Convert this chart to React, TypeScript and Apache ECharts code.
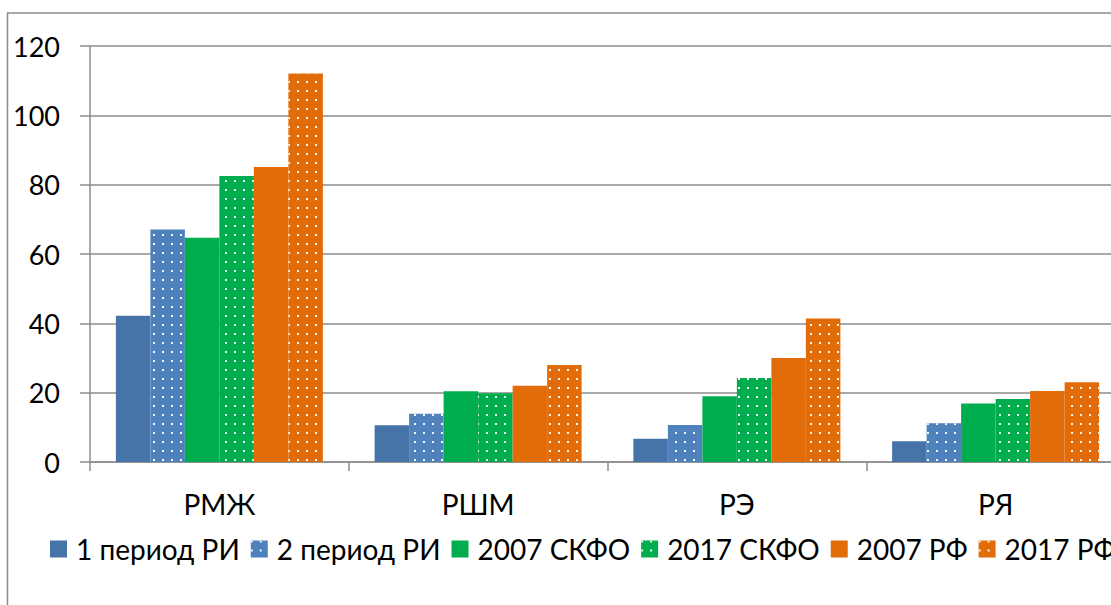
import React, { useEffect, useRef } from "react";
import * as echarts from "echarts";

const categories = ["РМЖ", "РШМ", "РЭ", "РЯ"];
const seriesNames = ["1 период РИ", "2 период РИ", "2007 СКФО", "2017 СКФО", "2007 РФ", "2017 РФ"];
const period1RI = [42.2, 10.6, 6.7, 6.0];
const period2RI = [67.1, 13.9, 10.7, 11.2];
const skfo2007 = [64.7, 20.4, 19.0, 16.9];
const skfo2017 = [82.5, 19.8, 24.2, 18.2];
const rf2007 = [85.1, 22.0, 30.0, 20.5];
const rf2017 = [112.1, 28.0, 41.4, 23.0];
const yTicks = [0, 20, 40, 60, 80, 100, 120];

const seriesData = [period1RI, period2RI, skfo2007, skfo2017, rf2007, rf2017];
const colors = ["#4673A8", "#4F81BD", "#00AD4E", "#00AD4E", "#E36C0A", "#E36C0A"];
const dotted = [false, true, false, true, false, true];
const legendTextWidths = [168, 168, 149, 146, 111, 120];

const FONT = "Lato, 'Open Sans', sans-serif";

export default function App() {
  const ref = useRef<HTMLDivElement>(null);
  useEffect(() => {
    if (!ref.current) return;
    const chart = echarts.init(ref.current, undefined, { renderer: "svg" });
    const decal = {
      symbol: "rect",
      symbolSize: 1,
      color: "rgba(255,255,255,0.95)",
      dashArrayX: [2, 6.6],
      dashArrayY: [2, 6.6],
      rotation: 0,
    };
    const rich: Record<string, any> = {};
    legendTextWidths.forEach((w, i) => {
      rich["w" + i] = { width: w, fontFamily: FONT, fontSize: 28, color: "#000", padding: [0, 0, 0, 4] };
    });
    chart.setOption({
      animation: false,
      textStyle: { fontFamily: FONT },
      graphic: [
        {
          type: "rect",
          shape: { x: 7.5, y: 13, width: 1300, height: 800 },
          style: { fill: "none", stroke: "#8C8C8C", lineWidth: 1.5 },
          silent: true,
          z: -1,
        },
      ],
      grid: { left: 90, top: 46, right: 15, bottom: 143, containLabel: false },
      legend: {
        left: 45,
        top: 530,
        itemWidth: 17,
        itemHeight: 17,
        itemGap: 11,
        icon: "rect",
        textStyle: { fontFamily: FONT, fontSize: 28, color: "#000", rich },
        formatter: (name: string) => `{w${seriesNames.indexOf(name)}|${name}}`,
        data: seriesNames,
      },
      xAxis: {
        type: "category",
        data: categories,
        axisLine: { lineStyle: { color: "#8C8C8C", width: 1.5 } },
        axisTick: { show: true, length: 9, alignWithLabel: false, lineStyle: { color: "#8C8C8C", width: 1.5 } },
        axisLabel: { fontFamily: FONT, fontSize: 28, color: "#000", margin: 28 },
      },
      yAxis: {
        type: "value",
        min: yTicks[0],
        max: yTicks[yTicks.length - 1],
        interval: 20,
        axisLine: { show: true, lineStyle: { color: "#8C8C8C", width: 1.5 } },
        axisTick: { show: true, length: 10, lineStyle: { color: "#8C8C8C", width: 1.5 } },
        splitLine: { show: true, lineStyle: { color: "#8C8C8C", width: 1.5 } },
        axisLabel: { fontFamily: FONT, fontSize: 27, color: "#000", margin: 30 },
      },
      series: seriesNames.map((name, i) => ({
        name,
        type: "bar",
        data: seriesData[i],
        barGap: "0%",
        barCategoryGap: "20%",
        itemStyle: {
          color: colors[i],
          decal: dotted[i] ? decal : undefined,
        },
      })),
    });
    return () => chart.dispose();
  }, []);
  return (
    <div style={{ position: "fixed", left: 0, top: 0, width: 1111, height: 605, overflow: "hidden", background: "#fff" }}>
      <div ref={ref} style={{ width: 1140, height: 605 }} />
    </div>
  );
}
